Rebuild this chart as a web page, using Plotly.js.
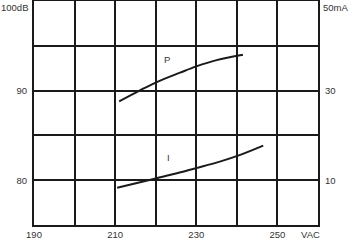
<!DOCTYPE html>
<html>
<head>
<meta charset="utf-8">
<script src="https://cdn.plot.ly/plotly-3.0.1.min.js"></script>
<style>html,body{margin:0;padding:0;background:#fff;}#chart{width:350px;height:242px;}</style>
</head>
<body>
<div id="chart"></div>
<script>
// Voltage (VAC) axis
const xTickVals = [190, 200, 210, 220, 230, 240, 250, 260];
const xTickText = ['190', '', '210', '', '230', '', '250', ''];
// Left axis: sound level (dB)
const dbTickVals = [75, 80, 85, 90, 95, 100];
const dbTickText = ['', '80', '', '90', '', ''];
// Right axis: current (mA)
const maTickVals = [10, 30];
const maTickText = ['10', '30'];

// Curve P (dB vs VAC)
const pVolt = [211, 216, 220, 226, 230, 235, 241.5];
const pDb   = [88.8, 90.0, 90.9, 92.0, 92.7, 93.4, 94.0];
// Curve I (mA vs VAC)
const iVolt = [210.5, 220, 225, 230, 236, 241, 246.5];
const iMa   = [8.3, 10.4, 11.5, 12.7, 14.2, 15.7, 17.7];

const ink = '#1a1a1a';
const font = {family: 'Liberation Sans, Arial, sans-serif', size: 9.5, color: '#333333'};

const traces = [
  {x: pVolt, y: pDb, mode: 'lines', line: {color: ink, width: 2, shape: 'spline'}, yaxis: 'y', hoverinfo: 'skip'},
  {x: iVolt, y: iMa, mode: 'lines', line: {color: ink, width: 2, shape: 'spline'}, yaxis: 'y2', hoverinfo: 'skip'}
];

const plotW = 350 - 34 - 32;

const layout = {
  width: 350, height: 242,
  margin: {l: 34, r: 32, t: 1, b: 17},
  paper_bgcolor: '#fff', plot_bgcolor: '#fff',
  showlegend: false,
  font: font,
  xaxis: {
    range: [190, 260], tickmode: 'array', tickvals: xTickVals, ticktext: xTickText,
    showgrid: true, gridcolor: ink, gridwidth: 2, zeroline: false,
    showline: true, mirror: true, linecolor: ink, linewidth: 2, ticks: '', tickfont: font
  },
  yaxis: {
    range: [75, 100], tickmode: 'array', tickvals: dbTickVals, ticktext: dbTickText,
    showgrid: true, gridcolor: ink, gridwidth: 2, zeroline: false,
    showline: true, mirror: true, linecolor: ink, linewidth: 2, ticks: '', tickfont: font,
    ticklabelstandoff: 3
  },
  yaxis2: {
    range: [0, 50], overlaying: 'y', side: 'right', tickmode: 'array',
    tickvals: maTickVals, ticktext: maTickText, showgrid: false, zeroline: false,
    showline: false, ticks: '', tickfont: font, ticklabelstandoff: 6
  },
  annotations: [
    {text: '100dB', xref: 'paper', yref: 'paper', x: -34 / plotW, y: 1, xanchor: 'left', yanchor: 'top', xshift: -1, yshift: 1, showarrow: false, font: font},
    {text: '50mA', xref: 'paper', yref: 'paper', x: 1 + 32 / plotW, y: 1, xanchor: 'right', yanchor: 'top', xshift: 0, yshift: 1, showarrow: false, font: font},
    {text: 'VAC', xref: 'paper', yref: 'paper', x: 0.975, y: 0, xanchor: 'center', yanchor: 'top', yshift: -2, showarrow: false, font: font},
    {text: 'P', xref: 'x', yref: 'y', x: 222.7, y: 93.5, showarrow: false, font: font},
    {text: 'I', xref: 'x', yref: 'y2', x: 223.1, y: 15.1, showarrow: false, font: font}
  ]
};

Plotly.newPlot('chart', traces, layout, {staticPlot: true, displayModeBar: false});
</script>
</body>
</html>
